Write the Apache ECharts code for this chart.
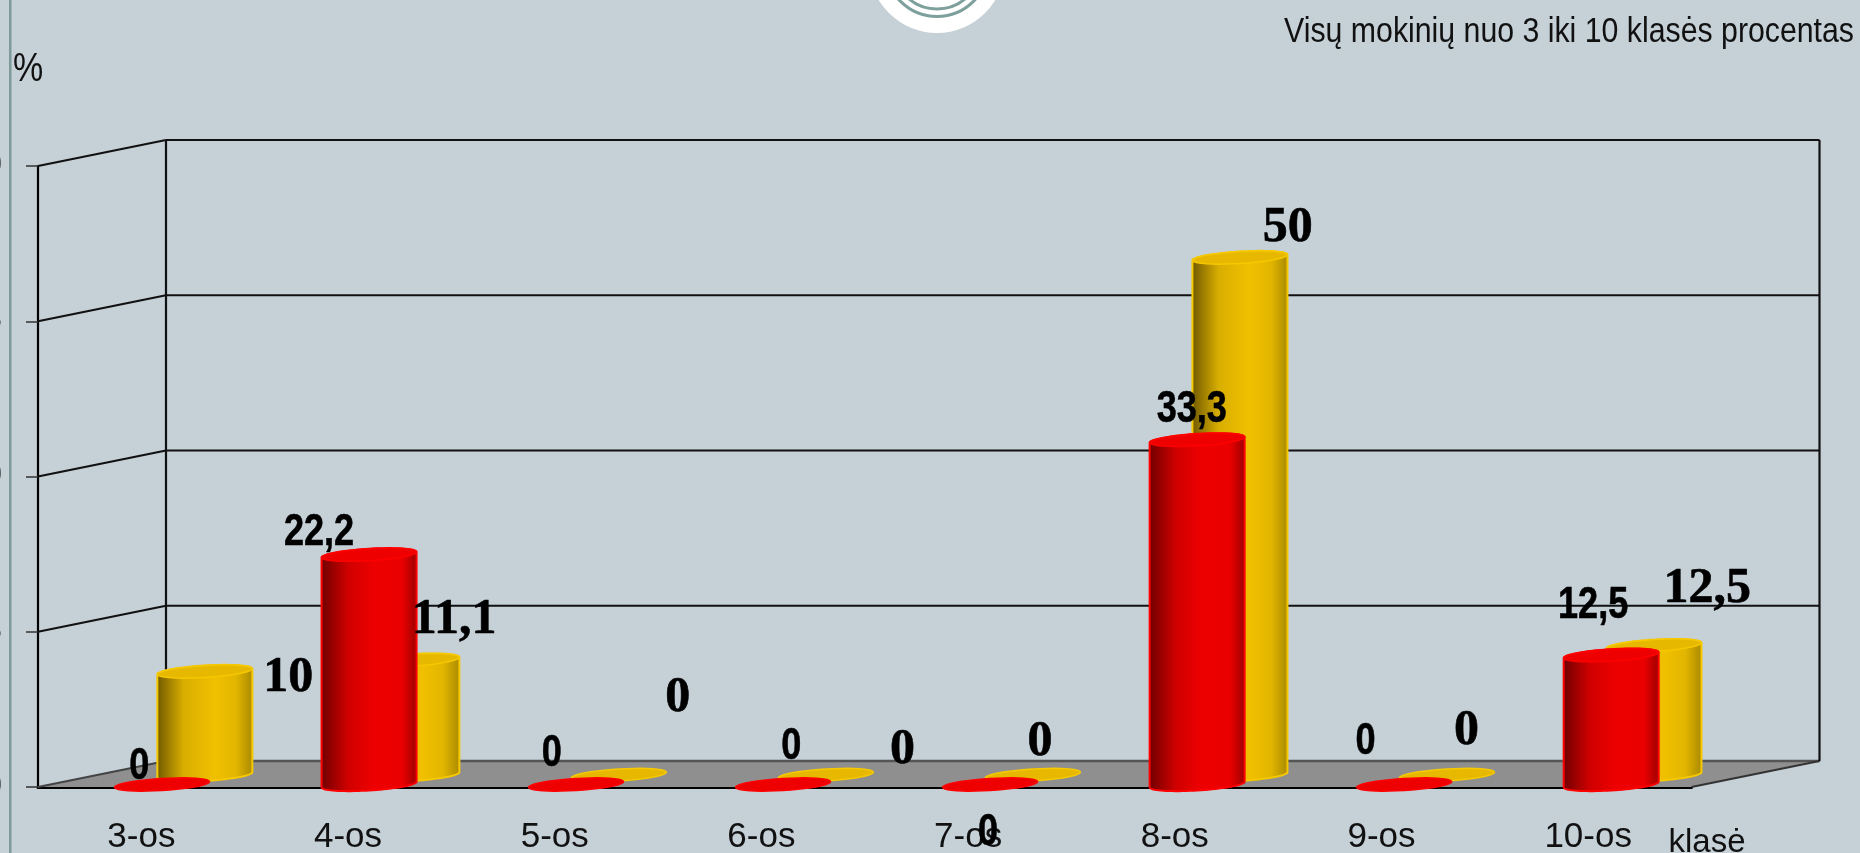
<!DOCTYPE html>
<html lang="lt">
<head>
    <meta charset="UTF-8">
    <title>Visų mokinių procentas</title>
    <script src="https://cdn.jsdelivr.net/npm/echarts@6/dist/echarts.min.js"></script>
    <style>
        html, body { margin: 0; padding: 0; background: #c5d0d7; overflow: hidden; }
        #main { width: 1860px; height: 853px; }
    </style>
</head>
<body>
    <div id="main"></div>

    <script>
        // data
        var categories = ['3-os', '4-os', '5-os', '6-os', '7-os', '8-os', '9-os', '10-os'];
        var redValues = [0, 22.2, 0, 0, 0, 33.3, 0, 12.5];
        var yellowValues = [10, 11.1, 0, 0, 0, 50, 0, 12.5];
        var redLabels = ['0', '22,2', '0', '0', '0', '33,3', '0', '12,5'];
        var yellowLabels = ['10', '11,1', '0', '0', '0', '50', '0', '12,5'];

        // the labels were moved by hand in the original, so offsets from the bar top
        var redLabelOffsets = [[-2, -20], [-29, -24], [-3, -33], [30, -40], [20, 46], [17, -32], [-16, -45], [5, -52]];
        var yellowLabelOffsets = [[147, -5], [106, -52], [123, -89], [141, -37], [72, -45], [113, -41], [85, -56], [119, -69]];

        var DEPTH_X = 128, DEPTH_Y = 26;
        var BAR_W = 95, ELLIPSE_RY = 6, SHEAR = 0.06, BAR_DRIFT = 0.33;
        var SANS = '"Liberation Sans", Arial, sans-serif';
        var SERIF = '"Liberation Serif", "Times New Roman", serif';

        var chart = echarts.init(document.getElementById('main'));
        var G = echarts.graphic;

        // half or full sheared ellipse as polygon points (the caps lean up to the right)
        function arcPoints(cx, cy, from, to) {
            var pts = [];
            for (var i = 0; i <= 40; i++) {
                var a = from + (to - from) * i / 40;
                var dx = Math.cos(a) * BAR_W / 2;
                pts.push([cx + dx, cy + Math.sin(a) * ELLIPSE_RY - dx * SHEAR]);
            }
            return pts;
        }

        function renderWalls(params, api) {
            var r = params.coordSys;
            var x0 = r.x, x1 = r.x + r.width, yBase = r.y + r.height;
            var kids = [{
                type: 'polygon',
                shape: { points: [[x0, yBase], [x1, yBase], [x1 + DEPTH_X, yBase - DEPTH_Y], [x0 + DEPTH_X, yBase - DEPTH_Y]] },
                style: { fill: '#8f8f8f' }
            }];
            function seg(a, b, c, d, color, w) {
                kids.push({
                    type: 'line',
                    shape: { x1: a, y1: b, x2: c, y2: d },
                    style: { stroke: color, lineWidth: w }
                });
            }
            [15, 30, 45, 60].forEach(function (v) {
                var y = api.coord([0, v])[1];
                seg(x0, y, x0 + DEPTH_X, y - DEPTH_Y, '#111', 2.2);
                seg(x0 + DEPTH_X, y - DEPTH_Y, x1 + DEPTH_X, y - DEPTH_Y, '#111', 2.2);
            });
            seg(x0, yBase, x0 + DEPTH_X, yBase - DEPTH_Y, '#444', 2);
            seg(x0 + DEPTH_X, yBase - DEPTH_Y, x1 + DEPTH_X, yBase - DEPTH_Y, '#555', 2.5);
            seg(x1, yBase, x1 + DEPTH_X, yBase - DEPTH_Y, '#333', 2);
            seg(x0 + DEPTH_X, r.y - DEPTH_Y, x0 + DEPTH_X, yBase - DEPTH_Y, '#111', 2.2);
            seg(x1 + DEPTH_X, r.y - DEPTH_Y, x1 + DEPTH_X, yBase - DEPTH_Y, '#111', 2.2);
            return { type: 'group', children: kids };
        }

        function cylinder(opts) {
            return function (params, api) {
                var i = api.value(0), v = api.value(1);
                var top = api.coord([i, v]);
                var base = api.coord([i, 0]);
                var cx = base[0] + opts.shiftX + i * BAR_DRIFT;
                var yBottom = base[1] - opts.shiftY;
                var yTop = top[1] - opts.shiftY;
                var kids = [];
                if (opts.bump) {
                    // little red nick under the axis at the category centre
                    kids.push({
                        type: 'circle',
                        shape: { cx: base[0], cy: base[1] + 0.5, r: 4 },
                        style: { fill: opts.edge }
                    });
                }
                if (v > 0) {
                    var body = arcPoints(cx, yBottom, 0, Math.PI);
                    body = body.concat(arcPoints(cx, yTop, Math.PI, Math.PI * 2));
                    kids.push({
                        type: 'polygon',
                        shape: { points: body },
                        style: {
                            fill: new G.LinearGradient(0, 0, 1, 0, opts.stops),
                            stroke: opts.edge, lineWidth: 2
                        }
                    });
                }
                kids.push({
                    type: 'polygon',
                    shape: { points: arcPoints(cx, yTop, 0, Math.PI * 2) },
                    style: { fill: opts.cap, stroke: opts.edge, lineWidth: 1.5 }
                });
                return { type: 'group', children: kids };
            };
        }

        function labelRender(texts, offsets, font, squeeze) {
            return function (params, api) {
                var i = api.value(0);
                var p = api.coord([i, api.value(1)]);
                return {
                    type: 'text',
                    x: p[0] + offsets[i][0],
                    y: p[1] + offsets[i][1],
                    scaleX: squeeze,
                    style: {
                        text: texts[i], fill: '#000', stroke: '#000', lineWidth: 0.6,
                        font: font, align: 'center', verticalAlign: 'middle'
                    }
                };
            };
        }

        function pairs(values) {
            return values.map(function (v, i) { return [i, v]; });
        }

        var redFont = 'bold 44px ' + SANS;
        var yellowFont = 'bold 50px ' + SERIF;

        chart.setOption({
            animation: false,
            backgroundColor: '#c5d0d7',
            grid: { left: 38, right: 168.5, top: 166, bottom: 66, outerBoundsMode: 'none' },
            xAxis: {
                type: 'category',
                data: categories,
                axisLine: { lineStyle: { color: '#000', width: 3 } },
                axisTick: { alignWithLabel: false, length: 13, lineStyle: { color: '#222', width: 1.5 } },
                axisLabel: { fontFamily: SANS, fontSize: 35, color: '#111', margin: 33, interval: 0 }
            },
            yAxis: {
                type: 'value',
                min: 0,
                max: 60,
                interval: 15,
                splitLine: { show: false },
                axisLine: { show: true, lineStyle: { color: '#000', width: 2.2 } },
                axisTick: { show: true, length: 12, lineStyle: { color: '#333', width: 1.5 } },
                axisLabel: { fontFamily: SANS, fontSize: 36, color: '#111', margin: 36 }
            },
            graphic: [
                { type: 'rect', x: 9, y: 0, shape: { width: 2.5, height: 853 }, style: { fill: '#7f9a9a' } },
                { type: 'circle', shape: { cx: 937, cy: -35, r: 68 }, style: { fill: '#fff' } },
                { type: 'circle', shape: { cx: 937, cy: -35, r: 51.5 }, style: { fill: 'none', stroke: '#7ea09c', lineWidth: 3 } },
                { type: 'circle', shape: { cx: 937, cy: -35, r: 44 }, style: { fill: 'none', stroke: '#7ea09c', lineWidth: 3 } },
                {
                    type: 'text', x: 1854, y: 32, scaleX: 0.865,
                    style: { text: 'Visų mokinių nuo 3 iki 10 klasės procentas', fill: '#111', font: '35px ' + SANS, align: 'right', verticalAlign: 'middle' }
                },
                {
                    type: 'text', x: 28, y: 70, scaleX: 0.85,
                    style: { text: '%', fill: '#111', font: '40px ' + SANS, align: 'center', verticalAlign: 'middle' }
                },
                {
                    type: 'text', x: 1707, y: 843,
                    style: { text: 'klasė', fill: '#111', font: '33px ' + SANS, align: 'center', verticalAlign: 'middle' }
                }
            ],
            series: [
                { type: 'custom', z: 1, clip: false, silent: true, data: [[0, 0]], renderItem: renderWalls },
                {
                    type: 'custom', z: 2, clip: false, data: pairs(yellowValues),
                    encode: { x: 0, y: 1 },
                    renderItem: cylinder({
                        shiftX: 63.5, shiftY: 12, edge: '#f6c800', cap: '#e6b900',
                        stops: [
                            { offset: 0, color: '#6f5800' }, { offset: 0.28, color: '#d8ae00' },
                            { offset: 0.6, color: '#f0c000' }, { offset: 0.82, color: '#e2b600' },
                            { offset: 1, color: '#a88800' }
                        ]
                    })
                },
                {
                    type: 'custom', z: 3, clip: false, data: pairs(redValues),
                    encode: { x: 0, y: 1 },
                    renderItem: cylinder({
                        shiftX: 20.7, shiftY: 2.5, edge: '#ff0000', cap: '#ee0000', bump: true,
                        stops: [
                            { offset: 0, color: '#6e0000' }, { offset: 0.28, color: '#cf0000' },
                            { offset: 0.55, color: '#ee0000' }, { offset: 0.84, color: '#ea0000' },
                            { offset: 1, color: '#9a0000' }
                        ]
                    })
                },
                {
                    type: 'custom', z: 5, clip: false, silent: true, data: pairs(redValues),
                    encode: { x: 0, y: 1 },
                    renderItem: labelRender(redLabels, redLabelOffsets, redFont, 0.82)
                },
                {
                    type: 'custom', z: 5, clip: false, silent: true, data: pairs(yellowValues),
                    encode: { x: 0, y: 1 },
                    renderItem: labelRender(yellowLabels, yellowLabelOffsets, yellowFont, 1)
                }
            ]
        });
    </script>
</body>
</html>
